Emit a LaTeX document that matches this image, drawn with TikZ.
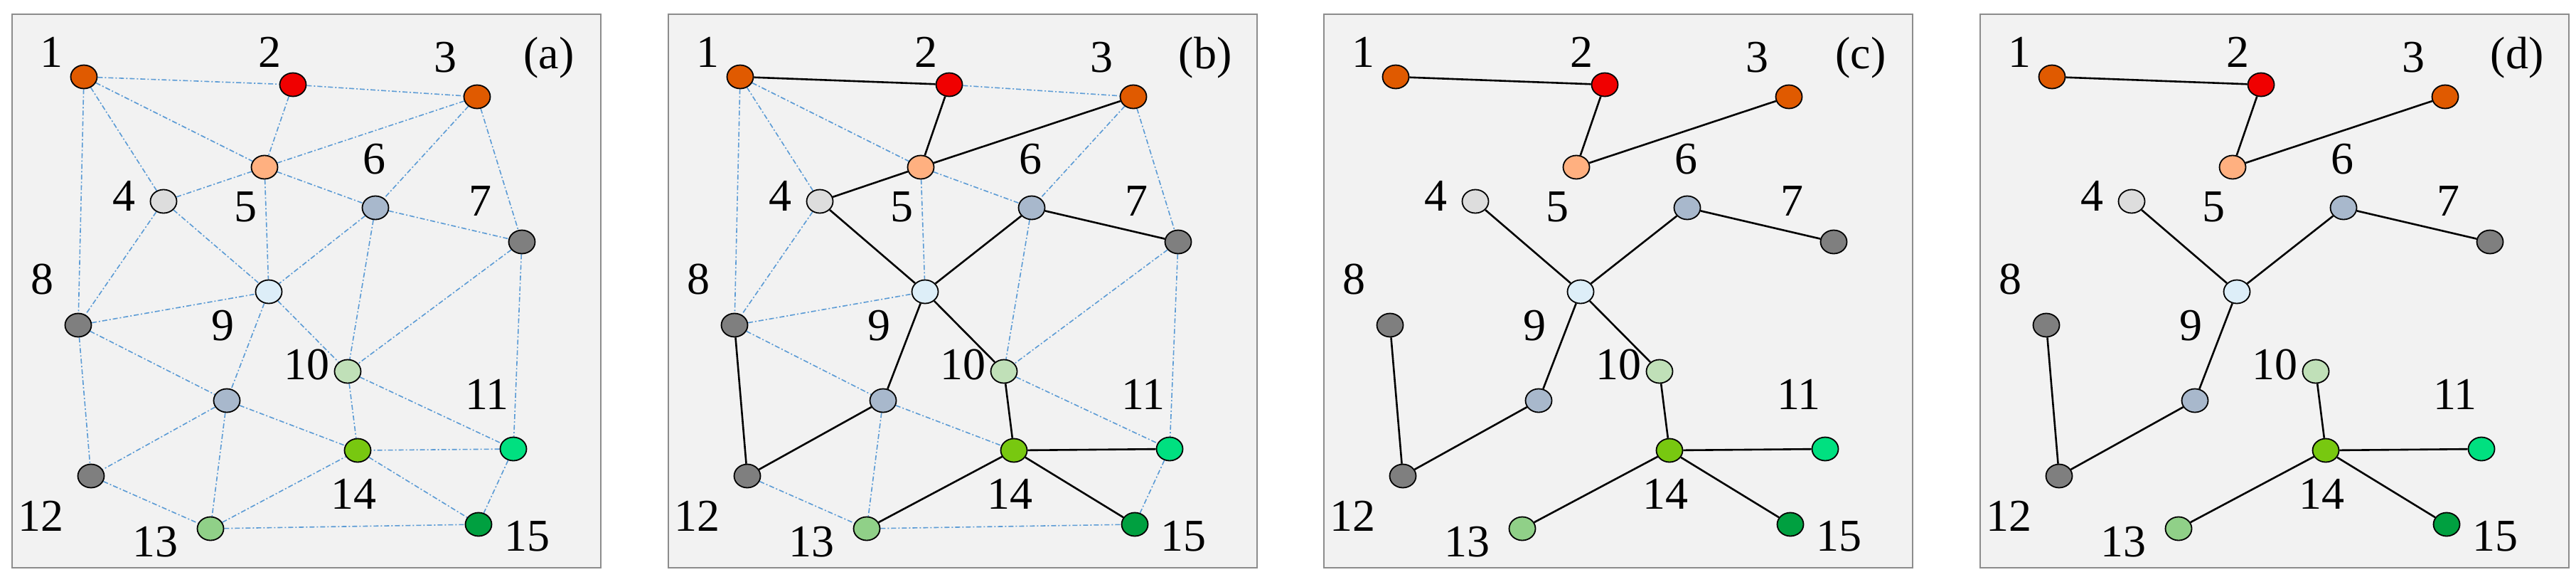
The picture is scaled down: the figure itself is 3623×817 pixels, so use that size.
\documentclass[tikz,border=0pt]{standalone}
\usepackage{fontspec}
\setmainfont{Liberation Serif}
\usetikzlibrary{shapes.geometric,backgrounds}
\definecolor{cor}{HTML}{E05A00}
\definecolor{cred}{HTML}{F00000}
\definecolor{clg}{HTML}{DDDDDD}
\definecolor{cpe}{HTML}{FFB080}
\definecolor{cgb}{HTML}{A8B8CC}
\definecolor{cdg}{HTML}{7F7F7F}
\definecolor{clb}{HTML}{DDEEF8}
\definecolor{cg10}{HTML}{C0E0B8}
\definecolor{cg11}{HTML}{00E080}
\definecolor{cg13}{HTML}{90D088}
\definecolor{cg14}{HTML}{78C810}
\definecolor{cg15}{HTML}{00A040}
\definecolor{cbl}{HTML}{5B9BD5}
\tikzset{
 v/.style={ellipse,draw=black,line width=1.8pt,minimum width=37pt,minimum height=33pt,inner sep=0pt},
 lab/.style={font=\fontsize{64}{66}\selectfont,inner sep=0pt},
 frame/.style={draw=black!45,line width=2pt,fill=black!5},
 blu/.style={cbl,line width=1.6pt,dash pattern=on 7pt off 3pt on 2pt off 3pt},
 blk/.style={black,line width=2.6pt}
}
\newcommand\mypanel[2]{%
 \begin{scope}[shift={#2}]
 \begin{pgfonlayer}{background}\path[frame] (0,0) rectangle (828,778);\end{pgfonlayer}
 \node[v,fill=cor]  (#1-1) at (101,88) {};
 \node[v,fill=cred] (#1-2) at (395,99) {};
 \node[v,fill=cor]  (#1-3) at (654,116) {};
 \node[v,fill=clg]  (#1-4) at (213,263) {};
 \node[v,fill=cpe]  (#1-5) at (355,215) {};
 \node[v,fill=cgb]  (#1-6) at (511,272) {};
 \node[v,fill=cdg]  (#1-7) at (717,320) {};
 \node[v,fill=cdg]  (#1-8) at (93,437) {};
 \node[v,fill=clb]  (#1-9) at (361,390) {};
 \node[v,fill=cgb]  (#1-x) at (302,543) {};
 \node[v,fill=cg10] (#1-10) at (472,502) {};
 \node[v,fill=cg11] (#1-11) at (705,611) {};
 \node[v,fill=cdg]  (#1-12) at (111,649) {};
 \node[v,fill=cg13] (#1-13) at (279,723) {};
 \node[v,fill=cg14] (#1-14) at (486,613) {};
 \node[v,fill=cg15] (#1-15) at (656,717) {};
 \node[lab] (#1-l1) at (55,53) {1};
 \node[lab] (#1-l2) at (362,53) {2};
 \node[lab] (#1-l3) at (609,61) {3};
 \node[lab] (#1-l4) at (157,255) {4};
 \node[lab] (#1-l5) at (328,271) {5};
 \node[lab] (#1-l6) at (509,204) {6};
 \node[lab] (#1-l7) at (658,263) {7};
 \node[lab] (#1-l8) at (42,373) {8};
 \node[lab] (#1-l9) at (296,438) {9};
 \node[lab] (#1-l10) at (414,493) {10};
 \node[lab] (#1-l11) at (668,534) {11};
 \node[lab] (#1-l12) at (40,705) {12};
 \node[lab] (#1-l13) at (201,742) {13};
 \node[lab] (#1-l14) at (480,674) {14};
 \node[lab] (#1-l15) at (724,734) {15};
 \node[lab] (#1-t) at (755,61) {(#1)};
 \end{scope}}
\begin{document}
\begin{tikzpicture}[x=1pt,y=-1pt]
\useasboundingbox (0,0) rectangle (3623,817);
\mypanel{a}{(17,20)}
\mypanel{b}{(940,20)}
\mypanel{c}{(1862,20)}
\mypanel{d}{(2785,20)}
\begin{pgfonlayer}{background}
\foreach \s/\t in {1/2,2/3,1/5,1/4,1/8,2/5,3/5,3/6,3/7,4/5,4/8,4/9,5/9,5/6,6/7,6/9,6/10,7/10,7/11,8/9,8/12,8/x,x/14,9/x,x/12,x/13,9/10,10/14,10/11,11/14,11/15,13/14,14/15,12/13,13/15}
  \draw[blu] (a-\s) -- (a-\t);
\foreach \s/\t in {2/3,1/5,1/4,1/8,3/6,3/7,5/9,5/6,4/8,6/10,7/10,7/11,8/9,8/x,x/14,x/13,10/11,11/15,12/13,13/15}
  \draw[blu] (b-\s) -- (b-\t);
\foreach \s/\t in {1/2,2/5,3/5,4/5,4/9,6/9,6/7,9/x,9/10,10/14,11/14,13/14,14/15,x/12,8/12}
  \draw[blk] (b-\s) -- (b-\t);
\foreach \s/\t in {1/2,2/5,3/5,4/9,6/9,6/7,9/x,9/10,10/14,11/14,13/14,14/15,x/12,8/12}
  \draw[blk] (c-\s) -- (c-\t);
\foreach \s/\t in {1/2,2/5,3/5,4/9,6/9,6/7,9/x,10/14,11/14,13/14,14/15,x/12,8/12}
  \draw[blk] (d-\s) -- (d-\t);
\end{pgfonlayer}
\end{tikzpicture}
\end{document}
